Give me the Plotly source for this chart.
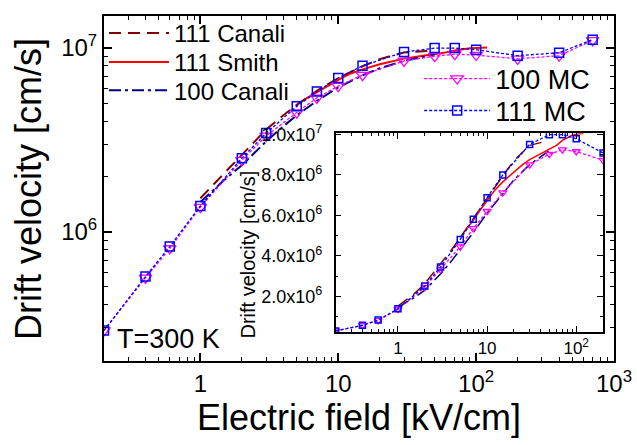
import plotly.graph_objects as go
import numpy as np

# ---------------- data ----------------
E_mc = [0.2, 0.4, 0.6, 1, 2, 3, 5, 7, 10, 15, 30, 50, 70, 100, 200, 400, 700]
v_mc111 = [0.29e6, 0.57e6, 0.83e6, 1.38e6, 2.51e6, 3.44e6, 4.81e6, 5.80e6, 6.87e6,
           7.99e6, 9.50e6, 9.98e6, 9.98e6, 9.78e6, 9.08e6, 9.42e6, 11.1e6]
v_mc100 = [0.29e6, 0.56e6, 0.81e6, 1.36e6, 2.45e6, 3.32e6, 4.45e6, 5.35e6, 6.20e6,
           7.12e6, 8.50e6, 9.02e6, 9.24e6, 9.15e6, 8.72e6, 9.08e6, 11.0e6]

E_canali111 = [1, 1.5, 2, 3, 4, 5, 7, 10, 15, 20, 30, 45]
v_canali111 = [1.52e6, 2.1e6, 2.62e6, 3.6e6, 4.3e6, 4.9e6, 5.85e6, 6.85e6, 7.95e6,
               8.7e6, 9.45e6, 9.65e6]

E_canali100 = [1, 1.5, 2, 3, 4, 5, 7, 10, 15, 20, 30, 50]
v_canali100 = [1.45e6, 1.92e6, 2.3e6, 3.1e6, 3.75e6, 4.3e6, 5.15e6, 6.1e6, 7.1e6,
               7.75e6, 8.5e6, 9.2e6]

E_smith = [5.7, 7, 8.5, 10, 12, 15, 20, 25, 30, 40, 50, 60, 70, 80, 90, 100, 120]
v_smith = [5.25e6, 5.75e6, 6.3e6, 6.7e6, 7.2e6, 7.65e6, 8.15e6, 8.5e6, 8.75e6, 9.05e6,
           9.25e6, 9.45e6, 9.7e6, 9.85e6, 9.95e6, 10.0e6, 10.05e6]

main_xticks = [1, 10, 100, 1000]
main_xlabels = ["1", "10", "10<sup>2</sup>", "10<sup>3</sup>"]
main_yticks = [1e6, 1e7]
main_ylabels = ["10<sup>6</sup>", "10<sup>7</sup>"]
inset_xticks = [1, 10, 100]
inset_xlabels = ["1", "10", "10<sup>2</sup>"]
inset_yticks = [2e6, 4e6, 6e6, 8e6, 1e7]
inset_ylabels = ["2.0x10<sup>6</sup>", "4.0x10<sup>6</sup>", "6.0x10<sup>6</sup>",
                 "8.0x10<sup>6</sup>", "1.0x10<sup>7</sup>"]

FONT = "Liberation Sans, Arial, sans-serif"
C_C111 = "#800000"
C_SMITH = "#FF0000"
C_C100 = "#000080"
C_MC100 = "#FF00FF"
C_MC111 = "#0000FF"

fig = go.Figure()

def add_set(xa, ya, inset):
    lw = 1.5 if inset else 2
    msz_t = 7 if inset else 11
    msz_s = 6 if inset else 9
    sl = not inset
    fig.add_trace(go.Scatter(x=E_canali111, y=v_canali111, mode="lines", name="111 Canali",
                             line=dict(color=C_C111, width=lw, dash="12px,7px"),
                             xaxis=xa, yaxis=ya, showlegend=sl, legend="legend"))
    fig.add_trace(go.Scatter(x=E_smith, y=v_smith, mode="lines", name="111 Smith",
                             line=dict(color=C_SMITH, width=lw),
                             xaxis=xa, yaxis=ya, showlegend=sl, legend="legend2"))
    fig.add_trace(go.Scatter(x=E_canali100, y=v_canali100, mode="lines", name="100 Canali",
                             line=dict(color=C_C100, width=lw, dash="12px,4px,3px,4px"),
                             xaxis=xa, yaxis=ya, showlegend=sl, legend="legend3"))
    fig.add_trace(go.Scatter(x=E_mc, y=v_mc100, mode="lines+markers", name="100 MC",
                             line=dict(color=C_MC100, width=1.3, dash="3px,2px"),
                             marker=dict(symbol="triangle-down-open", size=msz_t, color=C_MC100,
                                         line=dict(width=1.3, color=C_MC100)),
                             xaxis=xa, yaxis=ya, showlegend=sl, legend="legend4"))
    fig.add_trace(go.Scatter(x=E_mc, y=v_mc111, mode="lines+markers", name="111 MC",
                             line=dict(color=C_MC111, width=1.3, dash="3px,2px"),
                             marker=dict(symbol="square-open", size=msz_s, color=C_MC111,
                                         line=dict(width=1.5, color=C_MC111)),
                             xaxis=xa, yaxis=ya, showlegend=sl, legend="legend5"))

add_set("x", "y", False)
add_set("x2", "y2", True)

def decade_minors(lo, hi):
    out = []
    for d in range(lo, hi + 1):
        for m in range(2, 10):
            out.append(m * 10.0 ** d)
    return out

W, H = 637, 445
L, R, T, B = 104, 20, 5, 84
pw, ph = W - L - R, H - T - B

def px_x(px):
    return (px - L) / pw

def px_y(py):
    return (H - B - py) / ph

def leg(xpx, ypx, size, iw):
    return dict(x=px_x(xpx), y=px_y(ypx), xanchor="left", yanchor="middle",
                bgcolor="rgba(0,0,0,0)", borderwidth=0,
                font=dict(size=size, family=FONT), itemwidth=iw)

fig.update_layout(
    width=W, height=H,
    margin=dict(l=L, r=R, t=T, b=B),
    paper_bgcolor="white", plot_bgcolor="white",
    font=dict(family=FONT, color="black"),
    xaxis=dict(type="log", range=[np.log10(0.2), 3], domain=[0, 1], anchor="y",
               tickmode="array", tickvals=main_xticks, ticktext=main_xlabels,
               ticks="inside", ticklen=8, tickwidth=1.5, tickcolor="black",
               showline=True, linecolor="black", linewidth=2, mirror="ticks",
               showgrid=False, zeroline=False,
               tickfont=dict(size=24, family=FONT),
               minor=dict(tickmode="array", tickvals=decade_minors(-1, 2), ticks="inside",
                          ticklen=4, tickwidth=1.2, tickcolor="black", showgrid=False),
               title=dict(text="Electric field [kV/cm]", font=dict(size=36, family=FONT),
                          standoff=9)),
    yaxis=dict(type="log", range=[5.296, 7.174], domain=[0, 1], anchor="x",
               tickmode="array", tickvals=main_yticks, ticktext=main_ylabels,
               ticks="inside", ticklen=8, tickwidth=1.5, tickcolor="black",
               showline=True, linecolor="black", linewidth=2, mirror="ticks",
               showgrid=False, zeroline=False,
               tickfont=dict(size=24, family=FONT),
               minor=dict(tickmode="array", tickvals=decade_minors(5, 7), ticks="inside",
                          ticklen=4, tickwidth=1.2, tickcolor="black", showgrid=False)),
    xaxis2=dict(type="log", range=[np.log10(0.2), np.log10(200)],
                domain=[px_x(337), px_x(606)], anchor="y2",
                tickmode="array", tickvals=inset_xticks, ticktext=inset_xlabels,
                ticks="inside", ticklen=6, tickwidth=1.2, tickcolor="black",
                showline=True, linecolor="black", linewidth=1.5, mirror="ticks",
                showgrid=False, zeroline=False,
                tickfont=dict(size=17, family=FONT),
                minor=dict(tickmode="array", tickvals=decade_minors(-1, 2), ticks="inside",
                           ticklen=3, tickwidth=1, tickcolor="black", showgrid=False)),
    yaxis2=dict(type="linear", range=[0.24e6, 1.005e7],
                domain=[px_y(331), px_y(126)], anchor="x2",
                tickmode="array", tickvals=inset_yticks, ticktext=inset_ylabels,
                ticks="inside", ticklen=6, tickwidth=1.2, tickcolor="black",
                showline=True, linecolor="black", linewidth=1.5, mirror="ticks",
                showgrid=False, zeroline=False, ticklabelstandoff=8,
                tickfont=dict(size=18, family=FONT),
                minor=dict(dtick=1e6, ticks="inside", ticklen=3, tickwidth=1,
                           tickcolor="black", showgrid=False)),
    legend=leg(104, 23, 24, 60),
    legend2=leg(104, 53, 24, 60),
    legend3=leg(104, 82, 24, 60),
    legend4=leg(421, 70, 27, 66),
    legend5=leg(421, 103, 27, 66),
    showlegend=True,
)

fig.add_annotation(text="Drift velocity [cm/s]", x=px_x(28), y=px_y(183),
                   xref="paper", yref="paper", textangle=-90,
                   xanchor="center", yanchor="middle", showarrow=False,
                   font=dict(size=36, family=FONT, color="black"))
fig.add_annotation(text="T=300 K", x=px_x(115), y=px_y(338), xref="paper", yref="paper",
                   xanchor="left", yanchor="middle", showarrow=False,
                   font=dict(size=27, family=FONT, color="black"))
fig.add_annotation(text="Drift velocity [cm/s]", x=px_x(249), y=px_y(251),
                   xref="paper", yref="paper", textangle=-90,
                   xanchor="center", yanchor="middle", showarrow=False,
                   font=dict(size=20, family=FONT, color="black"))

fig.write_html("out.html")
